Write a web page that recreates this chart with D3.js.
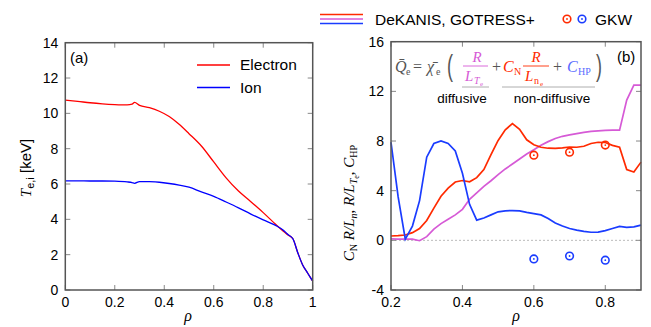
<!DOCTYPE html>
<html>
<head>
<meta charset="utf-8">
<script src="https://cdn.jsdelivr.net/npm/d3@7"></script>
<style>
  body { margin: 0; background: #fff; }
  text { font-family: "Liberation Sans", Arial, sans-serif; }
  .serif { font-family: "Liberation Serif", "DejaVu Serif", serif; }
</style>
</head>
<body>
<svg id="chart" width="651" height="327"></svg>
<script>
// ---- panel (a): temperature profiles ----
var rhoA = [0, 0.05, 0.1, 0.15, 0.2, 0.25, 0.27, 0.28, 0.3, 0.34, 0.38, 0.42, 0.46, 0.5,
            0.55, 0.6, 0.65, 0.7, 0.75, 0.8, 0.85, 0.88, 0.9, 0.92, 0.94, 0.96, 0.98, 1.0];
var teA  = [10.75, 10.68, 10.6, 10.54, 10.5, 10.48, 10.52, 10.62, 10.45, 10.32, 10.12, 9.82, 9.38, 8.85,
            8.15, 7.25, 6.35, 5.6, 5.0, 4.38, 3.72, 3.34, 3.12, 2.9, 2.1, 1.4, 0.95, 0.5];
var tiA  = [6.18, 6.18, 6.17, 6.17, 6.16, 6.12, 6.08, 6.04, 6.14, 6.13, 6.1, 6.03, 5.94, 5.82,
            5.55, 5.3, 4.98, 4.65, 4.3, 3.97, 3.66, 3.4, 3.14, 2.9, 2.1, 1.4, 0.95, 0.5];
var xTicksA = [0, 0.2, 0.4, 0.6, 0.8, 1];
var yTicksA = [0, 2, 4, 6, 8, 10, 12, 14];

// ---- panel (b): DeKANIS / GOTRESS+ coefficients ----
var rhoB = [0.20, 0.22, 0.24, 0.26, 0.28, 0.30, 0.32, 0.34, 0.36, 0.38, 0.40, 0.42, 0.44, 0.46,
            0.48, 0.50, 0.52, 0.54, 0.56, 0.58, 0.60, 0.62, 0.64, 0.66, 0.68, 0.70, 0.72, 0.74,
            0.76, 0.78, 0.80, 0.82, 0.84, 0.86, 0.88, 0.90];
var cnB  = [0.35, 0.38, 0.43, 0.62, 0.95, 1.6, 2.6, 3.55, 4.2, 4.7, 4.82, 4.72, 5.05, 5.7,
            6.9, 8.05, 8.9, 9.4, 8.95, 8.1, 7.7, 7.5, 7.42, 7.4, 7.45, 7.52, 7.5, 7.58,
            7.8, 7.9, 7.88, 7.65, 7.5, 5.7, 5.5, 6.3];
var rltB = [0.12, 0.1, 0.1, 0.1, -0.03, 0.3, 0.9, 1.35, 1.7, 2.05, 2.5, 3.3, 3.82, 4.35,
            4.8, 5.3, 5.75, 6.15, 6.55, 6.95, 7.3, 7.65, 7.95, 8.2, 8.38, 8.5, 8.6, 8.7,
            8.77, 8.82, 8.85, 8.87, 8.87, 11.3, 12.5, 12.5];
var chpB = [7.9, 3.5, 0.1, 1.15, 3.2, 6.7, 7.8, 8.0, 7.8, 7.2, 5.4, 2.9, 1.63, 1.8,
            2.05, 2.3, 2.38, 2.4, 2.37, 2.25, 2.15, 2.05, 1.75, 1.4, 1.15, 0.95, 0.82, 0.72,
            0.65, 0.66, 0.78, 0.95, 1.12, 1.05, 1.08, 1.22];
var gkwRho = [0.6, 0.7, 0.8];
var gkwCN  = [6.86, 7.1, 7.67];
var gkwCHP = [-1.5, -1.26, -1.6];
var xTicksB = [0.2, 0.4, 0.6, 0.8];
var yTicksB = [-4, 0, 4, 8, 12, 16];

var RED = "#ff0000", BLUE = "#0000ff";
var RED2 = "#ff2a00", MAG = "#d65ad6", BLUE2 = "#1a3cff";

var svg = d3.select("#chart");

// draws frame with inward ticks on all four sides
function frame(g, x, y, xt, yt, fmtX) {
  var x0 = x.range()[0], x1 = x.range()[1], y0 = y.range()[0], y1 = y.range()[1];
  var tk = g.append("g").attr("stroke", "#888").attr("stroke-width", 1);
  xt.forEach(function(v) {
    tk.append("line").attr("x1", x(v)).attr("x2", x(v)).attr("y1", y0).attr("y2", y0 - 5);
    tk.append("line").attr("x1", x(v)).attr("x2", x(v)).attr("y1", y1).attr("y2", y1 + 5);
  });
  yt.forEach(function(v) {
    tk.append("line").attr("x1", x0).attr("x2", x0 + 5).attr("y1", y(v)).attr("y2", y(v));
    tk.append("line").attr("x1", x1).attr("x2", x1 - 5).attr("y1", y(v)).attr("y2", y(v));
  });
  g.append("rect").attr("x", x0).attr("y", y1).attr("width", x1 - x0).attr("height", y0 - y1)
    .attr("fill", "none").attr("stroke", "#555").attr("stroke-width", 1.5);
  g.selectAll(".xl").data(xt).enter().append("text")
    .attr("x", function(d) { return x(d); }).attr("y", y0 + 17)
    .attr("text-anchor", "middle").attr("font-size", 14).text(fmtX);
  g.selectAll(".yl").data(yt).enter().append("text")
    .attr("x", x0 - 7).attr("y", function(d) { return y(d) + 5; })
    .attr("text-anchor", "end").attr("font-size", 14).text(function(d) { return d; });
}

// ---------- panel (a) ----------
var xA = d3.scaleLinear().domain([0, 1]).range([65.3, 312.7]);
var yA = d3.scaleLinear().domain([0, 14]).range([290, 42.7]);
var gA = svg.append("g");

var lineA = function(vals) {
  return d3.line().x(function(d, i) { return xA(rhoA[i]); })
    .y(function(d) { return yA(d); }).curve(d3.curveMonotoneX)(vals);
};
gA.append("path").attr("d", lineA(teA)).attr("fill", "none").attr("stroke", RED).attr("stroke-width", 1.3);
gA.append("path").attr("d", lineA(tiA)).attr("fill", "none").attr("stroke", BLUE).attr("stroke-width", 1.3);
frame(gA, xA, yA, xTicksA, yTicksA, function(d) { return d; });

gA.append("text").attr("x", 70).attr("y", 63).attr("font-size", 15).text("(a)");
gA.append("line").attr("x1", 197).attr("x2", 230).attr("y1", 65).attr("y2", 65).attr("stroke", RED).attr("stroke-width", 1.3);
gA.append("text").attr("x", 240).attr("y", 70).attr("font-size", 15.5).text("Electron");
gA.append("line").attr("x1", 197).attr("x2", 230).attr("y1", 87.5).attr("y2", 87.5).attr("stroke", BLUE).attr("stroke-width", 1.3);
gA.append("text").attr("x", 240).attr("y", 92.5).attr("font-size", 15.5).text("Ion");

gA.append("text").attr("class", "serif").attr("x", 188).attr("y", 321)
  .attr("text-anchor", "middle").attr("font-size", 16).attr("font-style", "italic").text("ρ");

var ylA = gA.append("text").attr("transform", "translate(31,168) rotate(-90)")
  .attr("text-anchor", "middle").attr("font-size", 15);
ylA.append("tspan").attr("class", "serif").attr("font-style", "italic").text("T");
ylA.append("tspan").attr("font-size", 11).attr("dy", 3).text("e,i");
ylA.append("tspan").attr("dy", -3).text(" [keV]");

// ---------- panel (b) ----------
var xB = d3.scaleLinear().domain([0.2, 0.9]).range([391, 641]);
var yB = d3.scaleLinear().domain([-4, 16]).range([290, 41.7]);
var gB = svg.append("g");

gB.append("line").attr("x1", xB(0.2)).attr("x2", xB(0.9)).attr("y1", yB(0)).attr("y2", yB(0))
  .attr("stroke", "#bbb").attr("stroke-width", 1).attr("stroke-dasharray", "2,2");

var lineB = function(vals) {
  return d3.line().x(function(d, i) { return xB(rhoB[i]); }).y(function(d) { return yB(d); })(vals);
};
gB.append("path").attr("d", lineB(rltB)).attr("fill", "none").attr("stroke", MAG).attr("stroke-width", 1.7);
gB.append("path").attr("d", lineB(cnB)).attr("fill", "none").attr("stroke", RED2).attr("stroke-width", 1.7);
gB.append("path").attr("d", lineB(chpB)).attr("fill", "none").attr("stroke", BLUE2).attr("stroke-width", 1.7);

function gkw(g, cx, cy, col) {
  g.append("circle").attr("cx", cx).attr("cy", cy).attr("r", 3.8).attr("fill", "none").attr("stroke", col).attr("stroke-width", 1.6);
  g.append("circle").attr("cx", cx).attr("cy", cy).attr("r", 0.9).attr("fill", col);
}
gkwRho.forEach(function(r, i) {
  gkw(gB, xB(r), yB(gkwCN[i]), RED2);
  gkw(gB, xB(r), yB(gkwCHP[i]), BLUE2);
});

frame(gB, xB, yB, xTicksB, yTicksB, function(d) { return d.toFixed(1); });

gB.append("text").attr("x", 617).attr("y", 62).attr("font-size", 15).text("(b)");

gB.append("text").attr("class", "serif").attr("x", 516).attr("y", 321)
  .attr("text-anchor", "middle").attr("font-size", 16).attr("font-style", "italic").text("ρ");

var ylB = gB.append("text").attr("class", "serif").attr("transform", "translate(354,203) rotate(-90)")
  .attr("text-anchor", "middle").attr("font-size", 15);
ylB.append("tspan").attr("font-style", "italic").text("C");
ylB.append("tspan").attr("font-size", 10).attr("dy", 3).text("N");
ylB.append("tspan").attr("dy", -3).attr("font-style", "italic").text(" R/L");
ylB.append("tspan").attr("font-size", 10).attr("dy", 3).attr("font-style", "italic").text("n");
ylB.append("tspan").attr("dy", -3).text(", ");
ylB.append("tspan").attr("font-style", "italic").text("R/L");
ylB.append("tspan").attr("font-size", 10).attr("dy", 3).attr("font-style", "italic").text("T");
ylB.append("tspan").attr("font-size", 8).attr("dy", 2).text("e");
ylB.append("tspan").attr("dy", -5).text(", ");
ylB.append("tspan").attr("font-style", "italic").text("C");
ylB.append("tspan").attr("font-size", 10).attr("dy", 3).text("HP");

// formula box text
var fm = gB.append("g");
var GR = "#555";
function ftxt(x, y, s, col, size, ital, anchor) {
  return fm.append("text").attr("class", "serif").attr("x", x).attr("y", y).attr("fill", col)
    .attr("font-size", size || 15).attr("font-style", ital ? "italic" : "normal")
    .attr("text-anchor", anchor || "start").text(s);
}
ftxt(395, 72, "Q\u0304", GR, 16, true);
ftxt(406, 75, "e", GR, 10, false);
ftxt(413, 72, "=", GR, 16, false);
ftxt(427, 72, "\u03C7\u0304", GR, 16, true);
ftxt(436, 75, "e", GR, 10, false);
fm.append("text").attr("x", 447).attr("y", 76).attr("fill", GR).attr("font-size", 30)
  .attr("font-family", "DejaVu Sans").attr("transform", "translate(447,76) scale(0.6,1) translate(-447,-76)").text("(");
fm.append("text").attr("x", 596).attr("y", 76).attr("fill", GR).attr("font-size", 30)
  .attr("font-family", "DejaVu Sans").attr("transform", "translate(596,76) scale(0.6,1) translate(-596,-76)").text(")");
// fraction R / L_Te
ftxt(477, 62, "R", MAG, 15, true, "middle");
fm.append("line").attr("x1", 463).attr("x2", 488).attr("y1", 66).attr("y2", 66).attr("stroke", MAG).attr("stroke-width", 0.9);
ftxt(465, 81, "L", MAG, 15, true);
ftxt(474, 84, "T", MAG, 10, true);
ftxt(480, 86, "e", MAG, 7, false);
ftxt(492, 72, "+", GR, 16, false);
ftxt(503, 72, "C", RED2, 16, true);
ftxt(514, 75, "N", RED2, 10, false);
ftxt(536, 62, "R", RED2, 15, true, "middle");
fm.append("line").attr("x1", 523).attr("x2", 549).attr("y1", 66).attr("y2", 66).attr("stroke", RED2).attr("stroke-width", 0.9);
ftxt(525, 81, "L", RED2, 15, true);
ftxt(534, 84, "n", RED2, 10, false);
ftxt(540, 86, "e", RED2, 7, false);
ftxt(553, 72, "+", GR, 16, false);
ftxt(567, 72, "C", "#5a6cff", 16, true);
ftxt(578, 75, "HP", "#5a6cff", 10, false);
fm.append("line").attr("x1", 462).attr("x2", 489).attr("y1", 87).attr("y2", 87).attr("stroke", "#999").attr("stroke-width", 0.8);
fm.append("line").attr("x1", 502).attr("x2", 595).attr("y1", 87).attr("y2", 87).attr("stroke", "#999").attr("stroke-width", 0.8);
gB.append("text").attr("x", 462).attr("y", 103).attr("text-anchor", "middle").attr("font-size", 13.5).text("diffusive");
gB.append("text").attr("x", 552).attr("y", 103).attr("text-anchor", "middle").attr("font-size", 13.5).text("non-diffusive");

// top legend
var lg = svg.append("g");
[RED2, MAG, BLUE2].forEach(function(c, i) {
  lg.append("line").attr("x1", 320).attr("x2", 363).attr("y1", 14.5 + i * 4.5).attr("y2", 14.5 + i * 4.5)
    .attr("stroke", c).attr("stroke-width", 1.7);
});
lg.append("text").attr("x", 375).attr("y", 24.5).attr("font-size", 15.5).text("DeKANIS, GOTRESS+");
gkw(lg, 567, 19, RED2);
gkw(lg, 582, 19, BLUE2);
lg.append("text").attr("x", 595).attr("y", 24.5).attr("font-size", 15.5).text("GKW");
</script>
</body>
</html>
